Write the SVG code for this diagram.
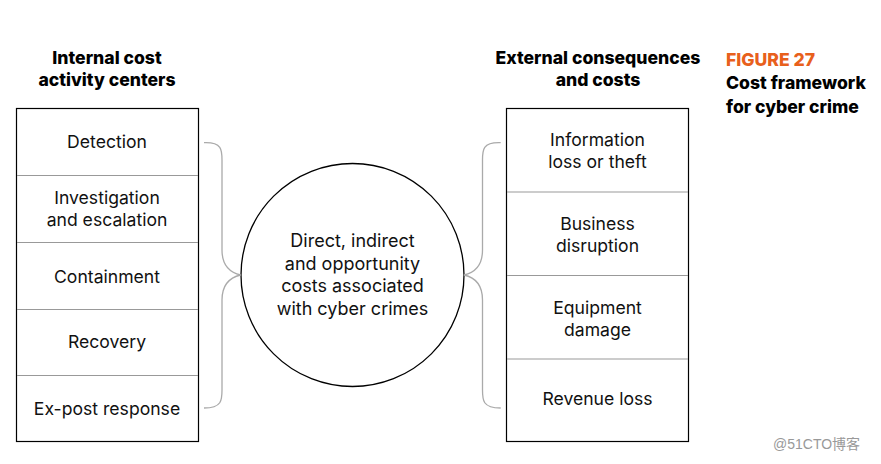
<svg xmlns="http://www.w3.org/2000/svg" width="881" height="464" viewBox="0 0 881 464">
<style>
.h{font-family:Inter,"Liberation Sans",sans-serif;font-weight:800;font-size:17.6px;fill:#000;text-anchor:middle}
.f{font-family:Inter,"Liberation Sans",sans-serif;font-weight:800;font-size:17.6px;fill:#000}
.t{font-family:Inter,"Liberation Sans",sans-serif;font-size:17.6px;fill:#111;text-anchor:middle}
.box{fill:#fff;stroke:#000;stroke-width:1.2}
.div{stroke:#999;stroke-width:1}
.br{fill:none;stroke:#aaa;stroke-width:1.3}
</style>
<rect width="881" height="464" fill="#fff"/>
<g id="titles">
<text class="h" x="107" y="64">Internal cost</text>
<text class="h" x="107" y="86">activity centers</text>
<text class="h" x="598" y="64">External consequences</text>
<text class="h" x="598" y="86">and costs</text>
<text class="f" x="726" y="66" style="fill:#e8601c">FIGURE 27</text>
<text class="f" x="726" y="89">Cost framework</text>
<text class="f" x="726" y="113">for cyber crime</text>
</g>
<g id="internal">
<rect class="box" x="16.5" y="108.5" width="182" height="333"/>
<line class="div" x1="17" y1="175.5" x2="198" y2="175.5"/>
<line class="div" x1="17" y1="242.5" x2="198" y2="242.5"/>
<line class="div" x1="17" y1="309.5" x2="198" y2="309.5"/>
<line class="div" x1="17" y1="375.5" x2="198" y2="375.5"/>
<text class="t" x="107" y="148">Detection</text>
<text class="t" x="107" y="204">Investigation</text>
<text class="t" x="107" y="226">and escalation</text>
<text class="t" x="107" y="283">Containment</text>
<text class="t" x="107" y="348">Recovery</text>
<text class="t" x="107" y="415">Ex-post response</text>
</g>
<g id="center">
<circle cx="352.5" cy="275" r="111.5" fill="#fff" stroke="#000" stroke-width="1.3"/>
<text class="t" x="352.5" y="247" style="font-size:18px">Direct, indirect</text>
<text class="t" x="352.5" y="270" style="font-size:18px">and opportunity</text>
<text class="t" x="352.5" y="292" style="font-size:18px">costs associated</text>
<text class="t" x="352.5" y="315" style="font-size:18px">with cyber crimes</text>
</g>
<g id="external">
<rect class="box" x="506.5" y="108.5" width="182" height="333"/>
<line class="div" x1="507" y1="192" x2="688" y2="192"/>
<line class="div" x1="507" y1="275.5" x2="688" y2="275.5"/>
<line class="div" x1="507" y1="359" x2="688" y2="359"/>
<text class="t" x="597.5" y="146">Information</text>
<text class="t" x="597.5" y="168">loss or theft</text>
<text class="t" x="597.5" y="230">Business</text>
<text class="t" x="597.5" y="252">disruption</text>
<text class="t" x="597.5" y="314">Equipment</text>
<text class="t" x="597.5" y="336">damage</text>
<text class="t" x="597.5" y="405">Revenue loss</text>
</g>
<g id="connectors">
<path class="br" d="M204,142.7 C222,142 222,150 222,160 L222,250 C222,268 232,273 240.7,275 C232,277 222,282 222,300 L222,390 C222,400 222,408 204,408"/>
<path class="br" d="M500.7,142.7 C482.5,142 482.5,150 482.5,160 L482.5,250 C482.5,268 473,273 464,275 C473,277 482.5,282 482.5,300 L482.5,390 C482.5,400 482.5,408 500.7,408"/>
</g>
<text x="773" y="449" font-family="'Liberation Sans','Noto Sans CJK SC',sans-serif" font-size="14" fill="#999">@51CTO博客</text>
</svg>
